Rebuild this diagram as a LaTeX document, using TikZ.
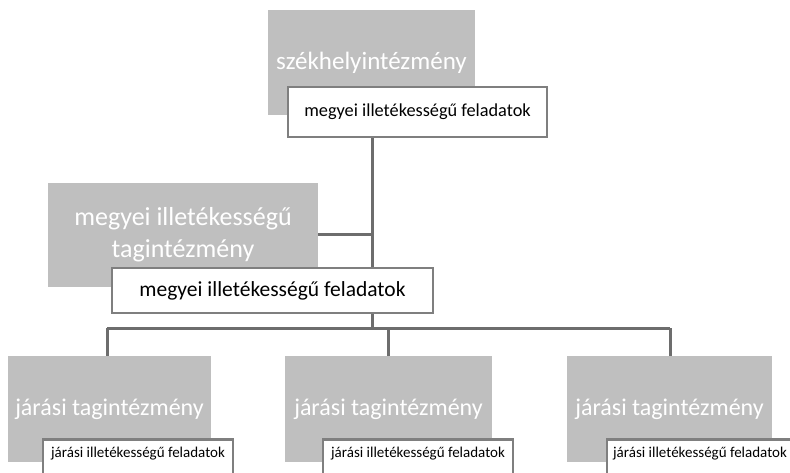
\documentclass[tikz,border=0pt]{standalone}
\usepackage{fontspec}
\setmainfont{Carlito}
\usetikzlibrary{positioning, backgrounds}
\definecolor{boxgray}{HTML}{BFBFBF}
\definecolor{edgegray}{HTML}{7F7F7F}
\definecolor{linegray}{HTML}{6D6D6D}
\begin{document}
\begin{tikzpicture}[x=1pt,y=-1pt,
    unit/.style={fill=boxgray,rectangle,inner sep=0pt,align=center,text=white},
    task/.style={draw=edgegray,fill=white,line width=2.5pt,rectangle,inner sep=0pt,align=center},
    smalltask/.style={task,minimum width=190pt,anchor=north,text height=14pt,text depth=22pt,inner ysep=4pt,font=\fontsize{15}{18}\selectfont},
    link/.style={draw=linegray,line width=3pt}]
    \useasboundingbox (0,0) rectangle (790,473);
    \clip (0,0) rectangle (790,473);
    % intezmenyek
    \node (szh) [unit,minimum width=207pt,minimum height=105pt,font=\fontsize{25}{30}\selectfont] at (371.5,62.5) {székhelyintézmény};
    \node (mtg) [unit,minimum width=270pt,minimum height=104pt,font=\fontsize{26}{32}\selectfont] at (183,235) {megyei illetékességű\\tagintézmény};
    \node (jt1) [unit,minimum width=203pt,minimum height=106pt,font=\fontsize{24}{28}\selectfont] at (109.5,409) {járási tagintézmény};
    \node (jt2) [unit,minimum width=207pt,minimum height=106pt,font=\fontsize{24}{28}\selectfont] at (388.5,409) {járási tagintézmény};
    \node (jt3) [unit,minimum width=205pt,minimum height=106pt,font=\fontsize{24}{28}\selectfont] at (669.5,409) {járási tagintézmény};
    % feladatok
    \node (szf) [task,minimum width=259pt,minimum height=50pt,font=\fontsize{18.3}{22}\selectfont] at (417.5,112) {megyei illetékességű feladatok};
    \node (mtf) [task,minimum width=321pt,minimum height=45pt,font=\fontsize{21.5}{25}\selectfont] at (272.5,290.5) {megyei illetékességű feladatok};
    \node (jf1) [smalltask] at (138,438) {járási illetékességű feladatok};
    \node (jf2) [smalltask] at (418,438) {járási illetékességű feladatok};
    \node (jf3) [smalltask,minimum width=186pt] at (700,438) {járási illetékességű feladatok};
    \coordinate (bus) at (372,328);
    \coordinate (busl) at (107,328);
    \coordinate (busr) at (670,328);
    \begin{pgfonlayer}{background}
    \draw[link] (szf.south -| bus) -- (bus);
    \draw[link] (mtg.east) -- (mtg.east -| bus);
    \draw[link] (busl) -- (busr);
    \draw[link] (busl) -- (busl |- jt1.north);
    \draw[link] (jt2.north |- bus) -- (jt2.north);
    \draw[link] (busr) -- (busr |- jt3.north);
    \end{pgfonlayer}
\end{tikzpicture}
\end{document}
